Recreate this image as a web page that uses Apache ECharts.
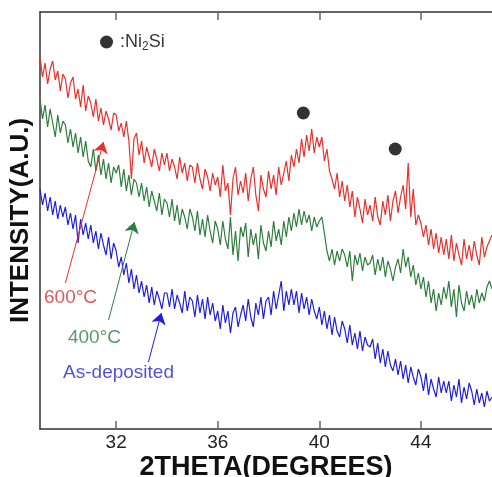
<!DOCTYPE html>
<html><head><meta charset="utf-8">
<script src="https://cdn.jsdelivr.net/npm/echarts@6/dist/echarts.min.js"></script>
<style>html,body{margin:0;padding:0;background:#fff}#c{width:492px;height:477px}</style>
</head><body><div id="c"></div>
<script>
// 2theta sampling (degrees)
const xStart = 29.0, xStep = 0.1;
const xMin = 29.0, xMax = 46.8;
const xTicks = [32, 36, 40, 44];

// Intensity (a.u.)
const red600 = [
372,352,366,345,360,368,349,358,338,355,
350,331,346,352,330,340,322,344,318,333,
326,312,330,308,321,304,318,310,299,316,
314,298,306,292,308,288,250,290,296,274,
288,266,282,272,262,280,270,258,276,264,
276,258,270,262,250,272,256,266,248,264,
262,246,266,250,240,260,252,238,256,244,
252,232,264,238,246,214,250,262,234,248,
236,256,228,250,262,234,218,254,240,232,
258,240,254,234,262,244,256,268,248,274,
262,280,266,290,272,294,278,300,276,292,
282,292,268,280,258,250,240,256,232,248,
228,244,222,238,212,232,220,206,230,214,
224,208,232,212,204,228,214,234,208,228,
238,216,232,244,220,266,212,240,204,214,
206,192,204,184,200,180,196,176,192,174,
190,170,194,168,186,174,164,190,170,184,
168,188,174,164,192,172,182,188,194
];
const green400 = [
330,310,324,302,320,306,292,314,296,308,
304,286,300,282,296,276,292,272,288,268,
262,280,258,274,254,270,250,266,246,262,
256,264,242,260,238,254,234,250,246,232,
246,228,242,222,238,228,218,236,214,230,
226,212,230,208,224,204,220,212,200,220,
212,198,218,194,210,192,214,198,186,208,
200,184,208,190,180,212,174,198,168,202,
192,206,172,200,184,196,170,204,186,178,
198,182,208,188,200,184,208,192,212,198,
216,202,220,204,218,206,214,198,212,202,
208,212,196,178,168,180,164,178,168,180,
174,162,178,148,174,164,176,158,172,164,
166,174,154,170,158,172,152,168,160,148,
162,170,156,180,162,172,152,164,144,156,
140,152,132,148,126,140,118,136,124,142,
130,148,122,140,112,144,126,118,138,124,
134,120,140,126,136,128,142,148,140
];
const blueAsDep = [
240,224,236,218,232,214,228,210,224,212,
222,204,216,200,214,186,210,194,206,190,
204,186,198,180,196,184,174,192,170,186,
178,162,172,154,166,146,160,140,154,136,
148,132,144,126,142,124,138,130,120,136,
136,122,140,120,134,126,116,138,118,132,
128,112,134,116,130,110,132,114,126,108,
118,100,124,106,118,96,116,122,102,114,
124,108,130,112,102,126,114,132,110,128,
132,114,138,120,134,148,118,138,124,140,
124,138,116,136,120,132,114,130,118,110,
122,104,118,100,114,94,112,98,92,108,
100,86,104,84,96,80,98,78,92,84,
82,90,70,86,66,80,62,78,64,58,
70,54,68,50,64,46,62,52,44,60,
52,38,56,34,50,40,32,52,36,48,
36,48,28,44,32,50,26,42,30,46,
38,24,40,26,36,22,38,28,32
];

// Ni2Si peak markers and legend marker (data coordinates)
const peakMarks = [[39.37, 316], [42.99, 280]];
const legendMark = [31.62, 387];
const legendText = ':Ni{sub|2}Si';

// Annotation labels and arrows (data coordinates)
const labels = [
  {name: '600°C', pos: [29.14, 131], color: '#d8302c'},
  {name: '400°C', pos: [30.08, 91], color: '#2e8040'},
  {name: 'As-deposited', pos: [29.89, 56], color: '#2626d8'}
];
const arrows = {
  red: [[30.0, 146], [31.5, 287]],
  green: [[31.7, 109], [32.72, 207]],
  blue: [[33.27, 67], [33.78, 116]]
};

const FONT = '"Liberation Sans", Arial, sans-serif';
function toPairs(arr) { return arr.map((v, i) => [+(xStart + i * xStep).toFixed(2), v]); }
function arrowLine(seg, color) {
  return {
    silent: true, symbol: ['none', 'arrow'], symbolSize: 11,
    lineStyle: {color: color, width: 1, type: 'solid'},
    label: {show: false}, emphasis: {disabled: true},
    data: [[{coord: seg[0]}, {coord: seg[1]}]]
  };
}
function lineSeries(name, data, color, seg) {
  return {
    name: name, type: 'line', data: toPairs(data), symbol: 'none', showSymbol: false,
    lineStyle: {color: color, width: 1.2}, itemStyle: {color: color},
    emphasis: {disabled: true}, animation: false,
    markLine: arrowLine(seg, color)
  };
}

const chart = echarts.init(document.getElementById('c'), null, {renderer: 'canvas'});
const axisLineStyle = {color: '#333', width: 1.5};
chart.setOption({
  animation: false,
  backgroundColor: '#fff',
  grid: {show: false, borderWidth: 0, left: 40, right: 0, top: 12, bottom: 48, containLabel: false, outerBoundsMode: 'none'},
  xAxis: [{
    type: 'value', position: 'bottom', min: xMin, max: xMax,
    name: '2THETA(DEGREES)', nameLocation: 'middle', nameGap: 25, nameMoveOverlap: false,
    nameTextStyle: {fontFamily: FONT, fontWeight: 'bold', fontSize: 27, color: '#111'},
    axisLine: {show: true, onZero: false, lineStyle: axisLineStyle},
    axisTick: {show: true, inside: true, length: 8, customValues: xTicks, lineStyle: {color: '#666', width: 1.5}},
    axisLabel: {show: true, customValues: xTicks, fontFamily: FONT, fontSize: 19, color: '#222', margin: 4},
    splitLine: {show: false}, splitArea: {show: false}, minorSplitLine: {show: false}
  }, {
    type: 'value', position: 'top', min: xMin, max: xMax,
    axisLine: {show: true, onZero: false, lineStyle: axisLineStyle},
    axisTick: {show: true, inside: true, length: 8, customValues: xTicks, lineStyle: {color: '#666', width: 1.5}},
    axisLabel: {show: false},
    splitLine: {show: false}, splitArea: {show: false}, minorSplitLine: {show: false}
  }],
  yAxis: {
    type: 'value', min: 0, max: 417,
    name: 'INTENSITY(A.U.)', nameLocation: 'middle', nameGap: 6, nameRotate: 90, nameMoveOverlap: false,
    nameTextStyle: {fontFamily: FONT, fontWeight: 'bold', fontSize: 26, color: '#111'},
    axisLine: {show: true, onZero: false, lineStyle: axisLineStyle},
    axisTick: {show: false}, axisLabel: {show: false}, splitLine: {show: false}, splitArea: {show: false}
  },
  series: [
    lineSeries('600°C', red600, '#e8302c', arrows.red),
    lineSeries('400°C', green400, '#2e7d3e', arrows.green),
    lineSeries('As-deposited', blueAsDep, '#1e1ee0', arrows.blue),
    {
      type: 'scatter', data: peakMarks, symbolSize: 13, itemStyle: {color: '#000'},
      silent: true, animation: false
    },
    {
      type: 'scatter', data: [legendMark], symbolSize: 13, itemStyle: {color: '#000'},
      silent: true, animation: false,
      label: {
        show: true, position: 'right', distance: 7, formatter: legendText,
        fontFamily: FONT, fontSize: 18, color: '#000',
        rich: {sub: {fontFamily: FONT, fontSize: 12, color: '#000', padding: [9, 0, 0, 0]}}
      }
    },
    {
      type: 'scatter', silent: true, animation: false, symbolSize: 1,
      itemStyle: {color: 'rgba(0,0,0,0)'},
      data: labels.map(l => ({
        name: l.name, value: l.pos,
        label: {show: true, position: 'right', distance: 0, formatter: '{b}',
          fontFamily: FONT, fontSize: 19, color: l.color}
      }))
    }
  ]
});
</script>
</body></html>
